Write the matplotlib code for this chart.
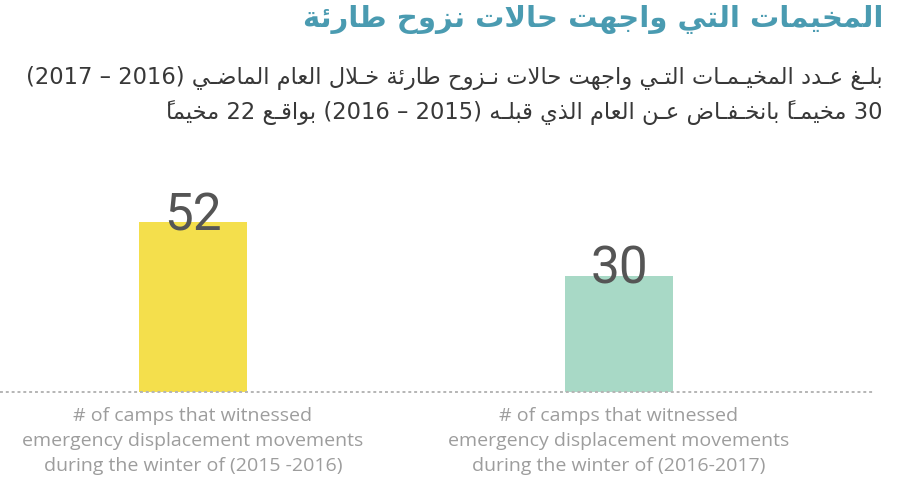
import re
import matplotlib
matplotlib.use("Agg")
import matplotlib.pyplot as plt

# ---------------- data ----------------
title_text = "المخيمات التي واجهت حالات نزوح طارئة"
subtitle_lines = [
    "بلـغ عـدد المخيـمـات التـي واجهت حالات نـزوح طارئة خـلال العام الماضـي (2016 – 2017)",
    "30 مخيمـاً بانخـفـاض عـن العام الذي قبلـه (2015 – 2016) بواقـع 22 مخيماً",
]
categories = [
    "# of camps that witnessed\nemergency displacement movements\nduring the winter of (2015 -2016)",
    "# of camps that witnessed\nemergency displacement movements\nduring the winter of (2016-2017)",
]
values = [52, 30]
bar_colors = ["#F4DF4C", "#A8D9C6"]

# ---------------- minimal Arabic shaping (presentation forms) ----------------
def _four(s):
    return tuple(chr(s + k) for k in range(4))


def _two(s):
    return (chr(s), chr(s + 1), None, None)


FORMS = {
    "\u0621": ("\uFE80", None, None, None),
    "\u0622": _two(0xFE81), "\u0623": _two(0xFE83), "\u0624": _two(0xFE85),
    "\u0625": _two(0xFE87), "\u0626": _four(0xFE89), "\u0627": _two(0xFE8D),
    "\u0628": _four(0xFE8F), "\u0629": _two(0xFE93), "\u062A": _four(0xFE95),
    "\u062B": _four(0xFE99), "\u062C": _four(0xFE9D), "\u062D": _four(0xFEA1),
    "\u062E": _four(0xFEA5), "\u062F": _two(0xFEA9), "\u0630": _two(0xFEAB),
    "\u0631": _two(0xFEAD), "\u0632": _two(0xFEAF), "\u0633": _four(0xFEB1),
    "\u0634": _four(0xFEB5), "\u0635": _four(0xFEB9), "\u0636": _four(0xFEBD),
    "\u0637": _four(0xFEC1), "\u0638": _four(0xFEC5), "\u0639": _four(0xFEC9),
    "\u063A": _four(0xFECD), "\u0641": _four(0xFED1), "\u0642": _four(0xFED5),
    "\u0643": _four(0xFED9), "\u0644": _four(0xFEDD), "\u0645": _four(0xFEE1),
    "\u0646": _four(0xFEE5), "\u0647": _four(0xFEE9), "\u0648": _two(0xFEED),
    "\u0649": _two(0xFEEF), "\u064A": _four(0xFEF1),
}
LAM_ALEF = {"\u0622": ("\uFEF5", "\uFEF6"), "\u0623": ("\uFEF7", "\uFEF8"),
            "\u0625": ("\uFEF9", "\uFEFA"), "\u0627": ("\uFEFB", "\uFEFC")}


def _jt(c):
    if c == "\u0640":
        return "C"
    if c in FORMS:
        f = FORMS[c]
        return "D" if f[2] else ("R" if f[1] else "U")
    if "\u064B" <= c <= "\u0652":
        return "T"
    return "U"


def shape(s):
    ch = list(s)
    n = len(ch)
    out = []

    def prev_nt(i):
        j = i - 1
        while j >= 0 and _jt(ch[j]) == "T":
            j -= 1
        return j

    def next_nt(i):
        j = i + 1
        while j < n and _jt(ch[j]) == "T":
            j += 1
        return j

    i = 0
    while i < n:
        c = ch[i]
        t = _jt(c)
        if t in ("U", "T", "C"):
            out.append(c)
            i += 1
            continue
        p = prev_nt(i)
        jp = p >= 0 and _jt(ch[p]) in ("D", "C")
        q = next_nt(i)
        if c == "\u0644" and q < n and ch[q] in LAM_ALEF:
            out.append(LAM_ALEF[ch[q]][1 if jp else 0])
            out.extend(ch[i + 1:q])
            i = q + 1
            continue
        jn = t == "D" and q < n and _jt(ch[q]) in ("D", "R", "C")
        f = FORMS[c]
        if jp and jn:
            g = f[3]
        elif jp:
            g = f[1]
        elif jn:
            g = f[2]
        else:
            g = f[0]
        out.append(g)
        i += 1
    return "".join(out)


def visual(s):
    v = shape(s)[::-1]
    v = re.sub(r"[0-9]+", lambda m: m.group(0)[::-1], v)
    return v.translate(str.maketrans("()", ")("))


# ---------------- figure ----------------
W, H = 908, 483
fig = plt.figure(figsize=(W / 100, H / 100), dpi=100)
fig.patch.set_facecolor("white")

FLOOR = -17.8
ax = fig.add_axes([0.0, 1 - 392 / H, 873 / W, (392 - 150) / H])
xs = list(range(len(values)))
ax.bar(xs, [v - FLOOR for v in values], bottom=FLOOR, width=0.2535,
       color=bar_colors, zorder=2)
ax.set_xlim(-193 / 426, (873 - 193) / 426)
ax.set_ylim(FLOOR, FLOOR + 242 / 2.436)
ax.axhline(FLOOR, color="#b5b5b5", lw=1.4, ls=(0, (1.5, 1.5)), zorder=3,
           clip_on=False)
ax.axis("off")

for x, v in zip(xs, values):
    ax.annotate(str(v), xy=(x, v), xytext=(0, -6), textcoords="offset points",
                ha="center", va="baseline", fontsize=37, color="#555555",
                family="Roboto", fontweight="normal", zorder=4)

for x, lab in zip(xs, categories):
    ax.annotate(lab, xy=(x, FLOOR), xytext=(0, -11), textcoords="offset points",
                ha="center", va="top", fontsize=14, color="#9d9d9d",
                family="Open Sans", linespacing=1.5, annotation_clip=False)

fig.text(883 / W, 1 - 20 / H, visual(title_text), ha="right", va="center",
         fontsize=21, fontweight="bold", color="#4A9BB1",
         family=["DejaVu Sans"])
for k, line in enumerate(subtitle_lines):
    fig.text(883 / W, 1 - (78 + 35 * k) / H, visual(line), ha="right",
             va="center", fontsize=16.3, color="#383838",
             family=["DejaVu Sans"])

fig.savefig("out.png", dpi=100, facecolor="white")
